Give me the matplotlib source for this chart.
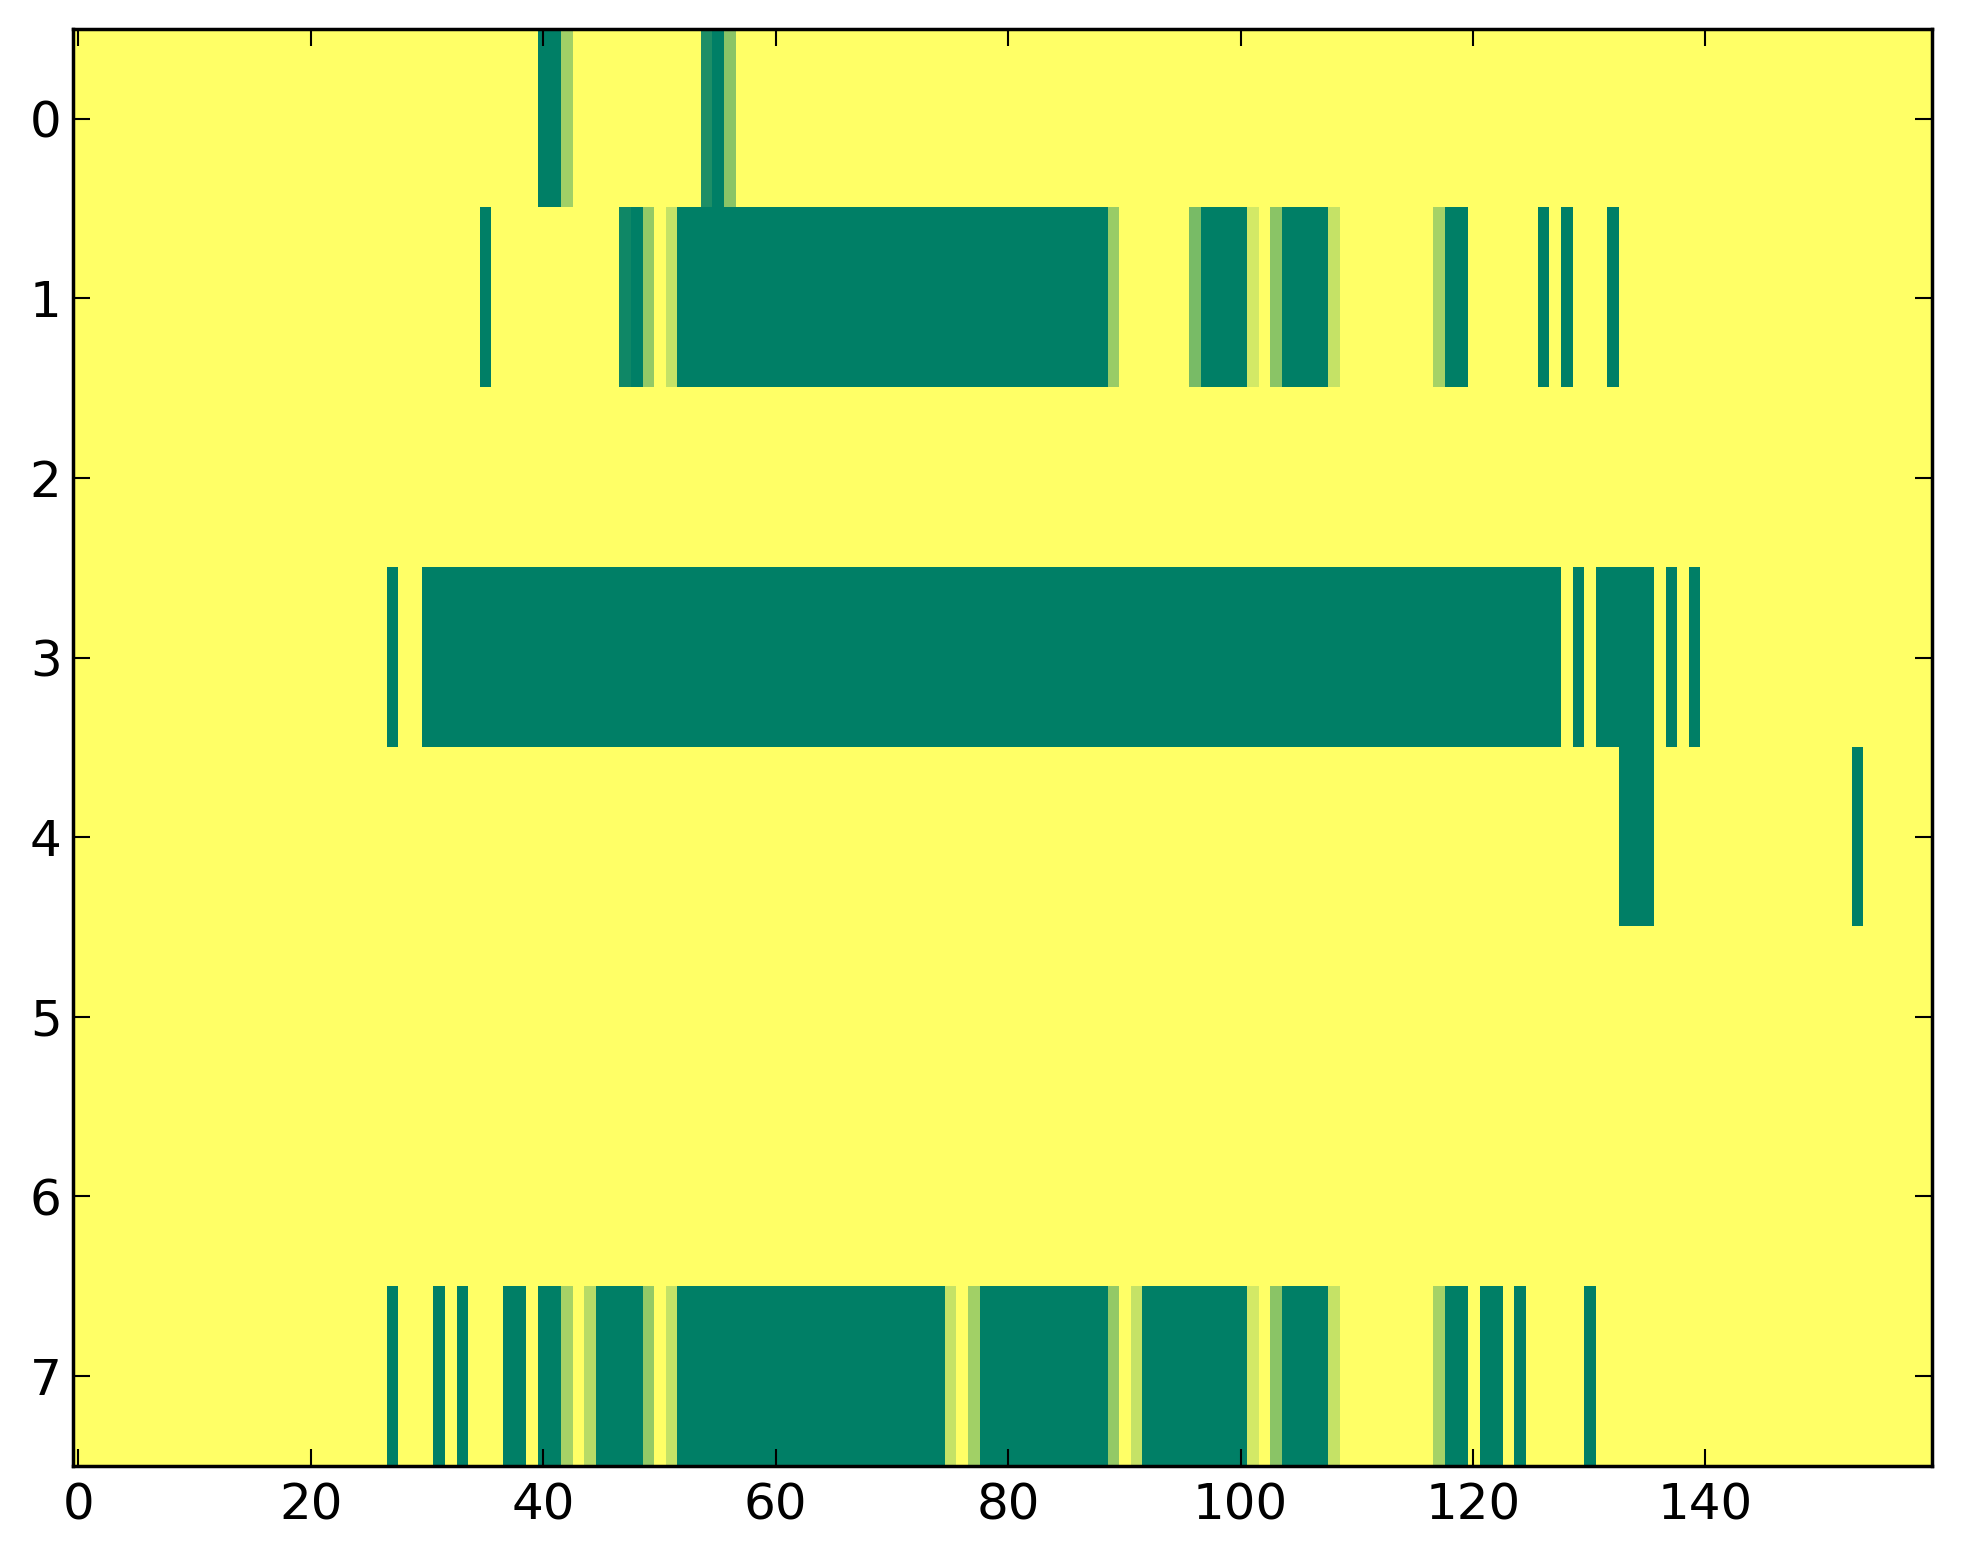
import numpy as np
import matplotlib
matplotlib.use("Agg")
import matplotlib.pyplot as plt

n_rows = 8
n_cols = 160

# dark (value 0) column runs per row: (first, last) inclusive
row0_dark = [(40, 41), (55, 55)]
row1_dark = [(35, 35), (48, 48), (52, 88), (97, 100), (104, 107), (118, 119),
             (126, 126), (128, 128), (132, 132)]
row3_dark = [(27, 27), (30, 127), (129, 129), (131, 135), (137, 137), (139, 139)]
row4_dark = [(133, 135), (153, 153)]
row7_dark = [(27, 27), (31, 31), (33, 33), (37, 38), (40, 41), (45, 48), (52, 74),
             (78, 88), (92, 100), (104, 107), (118, 119), (121, 122), (124, 124),
             (130, 130)]

# intermediate values per row: column -> value
row0_mid = {42: 0.63, 54: 0.12, 56: 0.54}
row1_mid = {47: 0.06, 49: 0.58, 51: 0.77, 89: 0.60, 96: 0.47, 101: 0.83,
            103: 0.54, 108: 0.77, 117: 0.65}
row7_mid = {42: 0.65, 44: 0.72, 49: 0.58, 51: 0.77, 75: 0.77, 77: 0.63,
            89: 0.58, 91: 0.77, 101: 0.83, 103: 0.54, 108: 0.77, 117: 0.65}

dark_runs = {0: row0_dark, 1: row1_dark, 3: row3_dark, 4: row4_dark, 7: row7_dark}
mid_vals = {0: row0_mid, 1: row1_mid, 7: row7_mid}

grid = np.ones((n_rows, n_cols))
for r, runs in dark_runs.items():
    for a, b in runs:
        grid[r, a:b + 1] = 0.0
for r, d in mid_vals.items():
    for c, v in d.items():
        grid[r, c] = v

x_ticks = [0, 20, 40, 60, 80, 100, 120, 140]
y_ticks = list(range(8))

fig = plt.figure(figsize=(19.63, 15.64), dpi=100)
ax = fig.add_axes([0.037, 0.0627, 0.9472, 0.9188])
ax.imshow(grid, cmap="summer", vmin=0, vmax=1, aspect="auto",
          interpolation="nearest")
ax.set_xticks(x_ticks)
ax.set_yticks(y_ticks)
ax.tick_params(direction="in", top=True, right=True, length=12, width=1.5,
               labelsize=36)
ax.tick_params(axis="y", pad=8)
ax.tick_params(axis="x", pad=11)
for s in ax.spines.values():
    s.set_linewidth(2.5)
fig.savefig("out.png", dpi=100)
